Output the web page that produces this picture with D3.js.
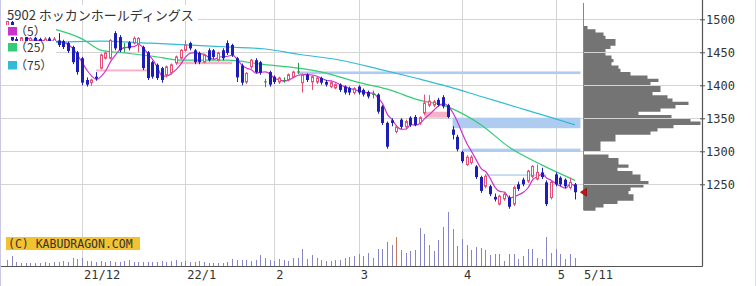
<!DOCTYPE html>
<html lang="ja">
<head>
<meta charset="UTF-8">
<title>5902 ホッカンホールディングス</title>
<style>
  body { margin: 0; background: #fff; }
  #chart svg { display: block; }
  #chart .axis text { font-family: "DejaVu Sans Mono", monospace; font-size: 12px; fill: #333; }
  #chart .axis line { stroke: #555; }
  #chart .title { font-family: "Noto Sans CJK JP", sans-serif; font-size: 13px; fill: #333; }
  #chart .legend text { font-family: "Noto Sans CJK JP", sans-serif; font-size: 12px; fill: #333; }
  #chart .copy { font-family: "DejaVu Sans Mono", monospace; font-size: 11.5px; fill: #333; }
</style>
</head>
<body>
<div id="chart"></div>
<script src="https://d3js.org/d3.v7.min.js"></script>
<script>
// daily candles, 2021/11/08 .. 2022/05/11 (trading days)
var opens = [1480,1496,1470,1466,1473,1467,1472,1470,1464,1471,1466,
  1468,1467,1464,1458,1450,1441,1408,1404,1413,1426,
  1441,1441,1479,1473,1458,1465,1464,1462,1458,1450,
  1435,1431,1426,1416,1419,1434,1441,1453,1464,1453,
  1449,1435,1453,1453,1438,1453,1464,1461,1441,1430,
  1405,1428,1438,1435,1406,1420,1413,1405,1408,1408,
  1413,1421,1404,1416,1405,1405,1411,1405,1398,1396,
  1401,1398,1396,1389,1398,1393,1390,1387,1386,1368,
  1343,1347,1330,1348,1337,1351,1352,1343,1358,1370,
  1370,1378,1382,1370,1333,1322,1299,1280,1283,1277,
  1261,1247,1247,1231,1220,1228,1230,1220,1250,1257,
  1255,1262,1258,1268,1253,1230,1265,1260,1257,1245,1250];
var highs = [1500,1499,1474,1475,1476,1474,1474,1472,1473,1474,1476,
  1479,1469,1466,1460,1452,1443,1412,1410,1420,1448,
  1451,1470,1482,1476,1464,1467,1474,1473,1460,1452,
  1437,1433,1428,1430,1433,1445,1455,1468,1466,1455,
  1451,1448,1456,1455,1451,1456,1468,1463,1443,1433,
  1420,1440,1441,1437,1410,1422,1415,1413,1412,1418,
  1422,1434,1418,1418,1415,1413,1413,1408,1406,1403,
  1403,1400,1398,1397,1400,1395,1392,1392,1388,1370,
  1345,1350,1340,1350,1348,1353,1355,1353,1386,1385,
  1378,1381,1385,1372,1338,1325,1301,1294,1294,1279,
  1263,1265,1249,1236,1234,1238,1233,1248,1254,1260,
  1272,1279,1280,1275,1256,1256,1268,1262,1259,1260,1252];
var lows = [1476,1465,1462,1463,1464,1465,1462,1461,1462,1463,1464,
  1458,1455,1449,1432,1416,1400,1398,1399,1407,1424,
  1439,1439,1453,1450,1450,1453,1462,1450,1423,1408,
  1410,1408,1404,1412,1416,1431,1439,1451,1453,1432,
  1432,1433,1436,1440,1436,1438,1446,1443,1405,1400,
  1402,1425,1418,1416,1397,1398,1402,1402,1404,1406,
  1411,1417,1389,1405,1393,1402,1401,1398,1396,1394,
  1390,1386,1385,1386,1386,1383,1380,1380,1357,1340,
  1304,1338,1327,1334,1333,1337,1338,1340,1355,1367,
  1367,1368,1365,1350,1318,1300,1282,1278,1280,1258,
  1237,1244,1232,1224,1218,1225,1213,1217,1240,1247,
  1252,1259,1256,1258,1217,1227,1247,1247,1244,1242,1227];
var closes = [1498,1468,1466,1472,1467,1471,1465,1464,1470,1466,1470,
  1461,1458,1452,1435,1420,1404,1401,1408,1410,1446,
  1449,1468,1456,1453,1458,1456,1471,1471,1426,1411,
  1413,1411,1408,1428,1431,1443,1453,1461,1456,1435,
  1435,1446,1438,1443,1449,1441,1449,1446,1412,1404,
  1418,1438,1420,1419,1406,1401,1405,1411,1408,1416,
  1420,1421,1416,1408,1413,1411,1404,1401,1404,1401,
  1393,1389,1389,1395,1389,1386,1383,1387,1360,1343,
  1307,1343,1337,1337,1345,1340,1340,1351,1373,1376,
  1375,1370,1368,1352,1325,1303,1285,1291,1291,1261,
  1240,1262,1235,1227,1232,1235,1216,1245,1243,1250,
  1270,1277,1268,1261,1220,1253,1250,1250,1247,1253,1238];
var volumes = [6,10,4,3,3,3,3,3,4,3,4,
  4,5,4,8,7,8,5,5,4,5,
  4,5,4,4,5,6,4,4,4,4,
  4,4,5,4,5,6,4,5,4,4,
  5,4,3,3,3,3,4,7,6,6,
  6,5,6,11,8,6,5,7,6,5,
  8,8,17,7,11,8,6,5,5,6,
  6,8,9,10,12,10,13,8,17,17,
  24,21,29,16,13,15,16,38,32,21,
  15,26,39,54,37,20,27,21,16,19,
  18,16,11,12,12,5,12,12,7,10,
  17,17,8,7,29,13,17,12,7,12,8];
var volMarked = [83, 102];

// moving averages 25 / 75: [day index, price]
var ma25 = [[10,1485],[16,1470],[20,1453],[25,1449],[31,1444],[37,1438],[47,1438],[54,1432],
  [62,1426],[67,1420],[75,1404],[82,1392],[87,1379],[94,1367],[101,1340],[107,1306],[114,1279],[121,1256]];
var ma75 = [[10,1465],[20,1467],[30,1464],[39,1461],[47,1458],[55,1455],[62,1447],[71,1438],
  [79,1425],[87,1411],[94,1398],[101,1383],[109,1366],[116,1351],[121,1340]];

// price zones: from / to day index (null = up to the profile), low / high price
var zoneFrom = [19, 36, 89, 62, 95, 97, 102];
var zoneTo   = [30, 48, 94, null, null, null, 115];
var zoneLo   = [1421, 1432, 1351, 1417, 1335, 1299, 1263];
var zoneHi   = [1424, 1436, 1360, 1421, 1351, 1304, 1265];
var zoneKind = ["pink","pink","pink","blue","blue","blue","blue"];

// volume by price, 5 yen bins: [bin low, volume]
var profile = [[1485,4],[1480,12],[1475,20],[1470,22],[1465,32],[1460,32],[1455,27],[1450,22],
  [1445,22],[1440,28],[1435,30],[1430,28],[1425,35],[1420,37],[1415,47],[1410,64],[1405,75],
  [1400,67],[1395,77],[1390,77],[1385,69],[1380,84],[1375,89],[1370,105],[1365,92],[1360,77],
  [1355,55],[1350,88],[1345,107],[1340,117],[1335,90],[1330,74],[1325,67],[1320,32],[1315,32],
  [1310,17],[1305,17],[1300,17],[1295,0],[1290,25],[1285,35],[1280,35],[1275,45],[1270,34],
  [1265,49],[1260,57],[1255,57],[1250,65],[1245,60],[1240,47],[1235,45],[1230,50],[1225,50],
  [1220,34],[1215,20],[1210,12]];

var monthIdx = [16, 38, 57, 75, 97, 117];
var monthLabels = ["21/12", "22/1", "2", "3", "4", "5"];
var lastLabel = "5/11";
var priceTicks = [1250, 1300, 1350, 1400, 1450, 1500];
var maLabels = ["（5）", "（25）", "（75）"];
var maColors = ["#cc33cc", "#33cc77", "#33bbd6"];

var W = 756, H = 286;
var plotRight = 702.5, plotBottom = 266.5, profBase = 583.5;

var x = d3.scaleLinear().domain([0, 121]).range([7, 574.5]);
var y = d3.scaleLinear().domain([1250, 1500]).range([184.3, 19.3]);
var vy = d3.scaleLinear().domain([0, 60]).range([0, 60]);
var px = d3.scaleLinear().domain([0, 120]).range([profBase, profBase + 120]);
function cx(i) { return Math.round(x(i)); }

var svg = d3.select("#chart").append("svg").attr("width", W).attr("height", H);
svg.append("rect").attr("width", W).attr("height", H).attr("fill", "#fff");

// volume profile as one stepped shape
var prof = "M" + profBase + "," + y(profile[0][0] + 5);
profile.forEach(function(d) {
  prof += "L" + px(d[1]) + "," + y(d[0] + 5) + "L" + px(d[1]) + "," + y(d[0]);
});
prof += "L" + profBase + "," + y(profile[profile.length - 1][0]) + "Z";
svg.append("path").attr("d", prof).attr("fill", "#747474");

// grid
svg.append("g").selectAll("line").data(priceTicks).enter().append("line")
  .attr("x1", 0).attr("x2", plotRight)
  .attr("y1", function(d) { return Math.round(y(d)) + 0.5; })
  .attr("y2", function(d) { return Math.round(y(d)) + 0.5; })
  .attr("stroke", "#d4d4d4");
svg.append("g").selectAll("line").data(monthIdx).enter().append("line")
  .attr("x1", function(d) { return cx(d) + 0.5; })
  .attr("x2", function(d) { return cx(d) + 0.5; })
  .attr("y1", 0).attr("y2", plotBottom)
  .attr("stroke", "#d4d4d4");

// zones
svg.append("g").selectAll("rect").data(zoneFrom).enter().append("rect")
  .attr("x", function(d) { return x(d); })
  .attr("width", function(d, i) { return (zoneTo[i] === null ? profBase - 3 : x(zoneTo[i])) - x(d); })
  .attr("y", function(d, i) { return y(zoneHi[i]); })
  .attr("height", function(d, i) { return y(zoneLo[i]) - y(zoneHi[i]); })
  .attr("fill", function(d, i) { return zoneKind[i] == "pink" ? "#f6b3c7" : "#aecbf0"; });

// volume
svg.append("g").selectAll("line").data(volumes).enter().append("line")
  .attr("x1", function(d, i) { return cx(i) + 0.5; })
  .attr("x2", function(d, i) { return cx(i) + 0.5; })
  .attr("y1", 266).attr("y2", function(d) { return 266 - vy(d); })
  .attr("stroke", function(d, i) { return volMarked.indexOf(i) >= 0 ? "#c27a60" : "#8585c8"; });

// moving averages
var ma5 = [];
closes.forEach(function(c, i) {
  if (i >= 4) ma5.push([i, d3.mean(closes.slice(i - 4, i + 1))]);
});
var line = d3.line().x(function(d) { return x(d[0]) + 0.5; }).y(function(d) { return y(d[1]); })
  .curve(d3.curveMonotoneX);
[ma75, ma25, ma5].forEach(function(s, k) {
  svg.append("path").datum(s).attr("d", line).attr("fill", "none")
    .attr("stroke", maColors[2 - k]).attr("stroke-width", 1.2);
});

// candles
var candle = svg.append("g").selectAll("g").data(closes).enter().append("g");
function col(i) {
  if (closes[i] > opens[i]) return "#e4507a";
  if (closes[i] < opens[i]) return "#1d1db8";
  return "#239a45";
}
candle.append("line")
  .attr("x1", function(d, i) { return cx(i) + 0.5; })
  .attr("x2", function(d, i) { return cx(i) + 0.5; })
  .attr("y1", function(d, i) { return y(highs[i]); })
  .attr("y2", function(d, i) { return y(lows[i]); })
  .attr("stroke", function(d, i) { return col(i); });
candle.append("rect")
  .attr("x", function(d, i) { return closes[i] > opens[i] ? cx(i) - 0.5 : cx(i) - 1; })
  .attr("width", function(d, i) { return closes[i] > opens[i] ? 2 : 3; })
  .attr("y", function(d, i) { return y(Math.max(opens[i], closes[i])); })
  .attr("height", function(d, i) { return Math.max(1, Math.abs(y(opens[i]) - y(closes[i]))); })
  .attr("fill", function(d, i) { return closes[i] > opens[i] ? "#fff" : col(i); })
  .attr("stroke", function(d, i) { return closes[i] > opens[i] ? col(i) : "none"; });

// frame
svg.append("line").attr("x1", plotRight).attr("x2", plotRight).attr("y1", 0).attr("y2", plotBottom)
  .attr("stroke", "#555").attr("stroke-width", 1.2);
svg.append("line").attr("x1", 0).attr("x2", plotRight).attr("y1", plotBottom).attr("y2", plotBottom)
  .attr("stroke", "#555").attr("stroke-width", 1.2);
svg.append("line").attr("x1", 0.5).attr("x2", 0.5).attr("y1", 0).attr("y2", H).attr("stroke", "#c9c9e6");
svg.append("line").attr("x1", W - 0.5).attr("x2", W - 0.5).attr("y1", 0).attr("y2", H).attr("stroke", "#dcdcef");
svg.append("line").attr("x1", profBase).attr("x2", profBase).attr("y1", 3).attr("y2", 210)
  .attr("stroke", "#888");

// axes
var yAxis = d3.axisRight(y).tickValues(priceTicks).tickFormat(d3.format("d")).tickSize(5).tickPadding(1);
svg.append("g").attr("class", "axis").attr("transform", "translate(700,0)").call(yAxis)
  .call(function(g) { g.select(".domain").remove(); });
var xAxis = d3.axisBottom(x).tickValues(monthIdx)
  .tickFormat(function(d, i) { return monthLabels[i]; }).tickSize(0).tickPadding(4);
svg.append("g").attr("class", "axis").attr("transform", "translate(0,266)").call(xAxis)
  .call(function(g) {
    g.select(".domain").remove();
    g.selectAll("text").attr("text-anchor", "start").attr("x", 1.5);
  });
svg.append("g").attr("class", "axis").append("text")
  .attr("x", x(121) + 9.5).attr("y", 278.5).text(lastLabel);

// last price marker
var ly = y(closes[closes.length - 1]);
svg.append("path")
  .attr("d", "M" + (profBase - 3) + "," + ly + "L" + (profBase + 3) + "," + (ly - 4) + "L" + (profBase + 3) + "," + (ly + 4) + "Z")
  .attr("fill", "#cc1111").attr("stroke", "#881111").attr("stroke-width", 0.8);

// title and legend
svg.append("rect").attr("x", 1).attr("y", 5).attr("width", 197).attr("height", 16).attr("fill", "#fff");
svg.append("text").attr("class", "title").attr("x", 7).attr("y", 19.5).text("5902 ホッカンホールディングス");

var legend = svg.append("g").attr("class", "legend");
var rowY = [25, 41, 59];
maLabels.forEach(function(t, k) {
  legend.append("rect").attr("x", 1).attr("y", rowY[k]).attr("width", 55).attr("height", k == 0 ? 12 : 14)
    .attr("fill", "#fff");
  legend.append("rect").attr("x", 8).attr("y", rowY[k] + 2).attr("width", 9).attr("height", 8.5)
    .attr("fill", maColors[k]);
  legend.append("text").attr("x", 15).attr("y", rowY[k] + 11).text(t);
});

// copyright
svg.append("rect").attr("x", 6).attr("y", 237).attr("width", 134).attr("height", 13).attr("fill", "#f2c230");
svg.append("text").attr("class", "copy").attr("x", 8).attr("y", 247.5).text("(C) KABUDRAGON.COM");
</script>
</body>
</html>
